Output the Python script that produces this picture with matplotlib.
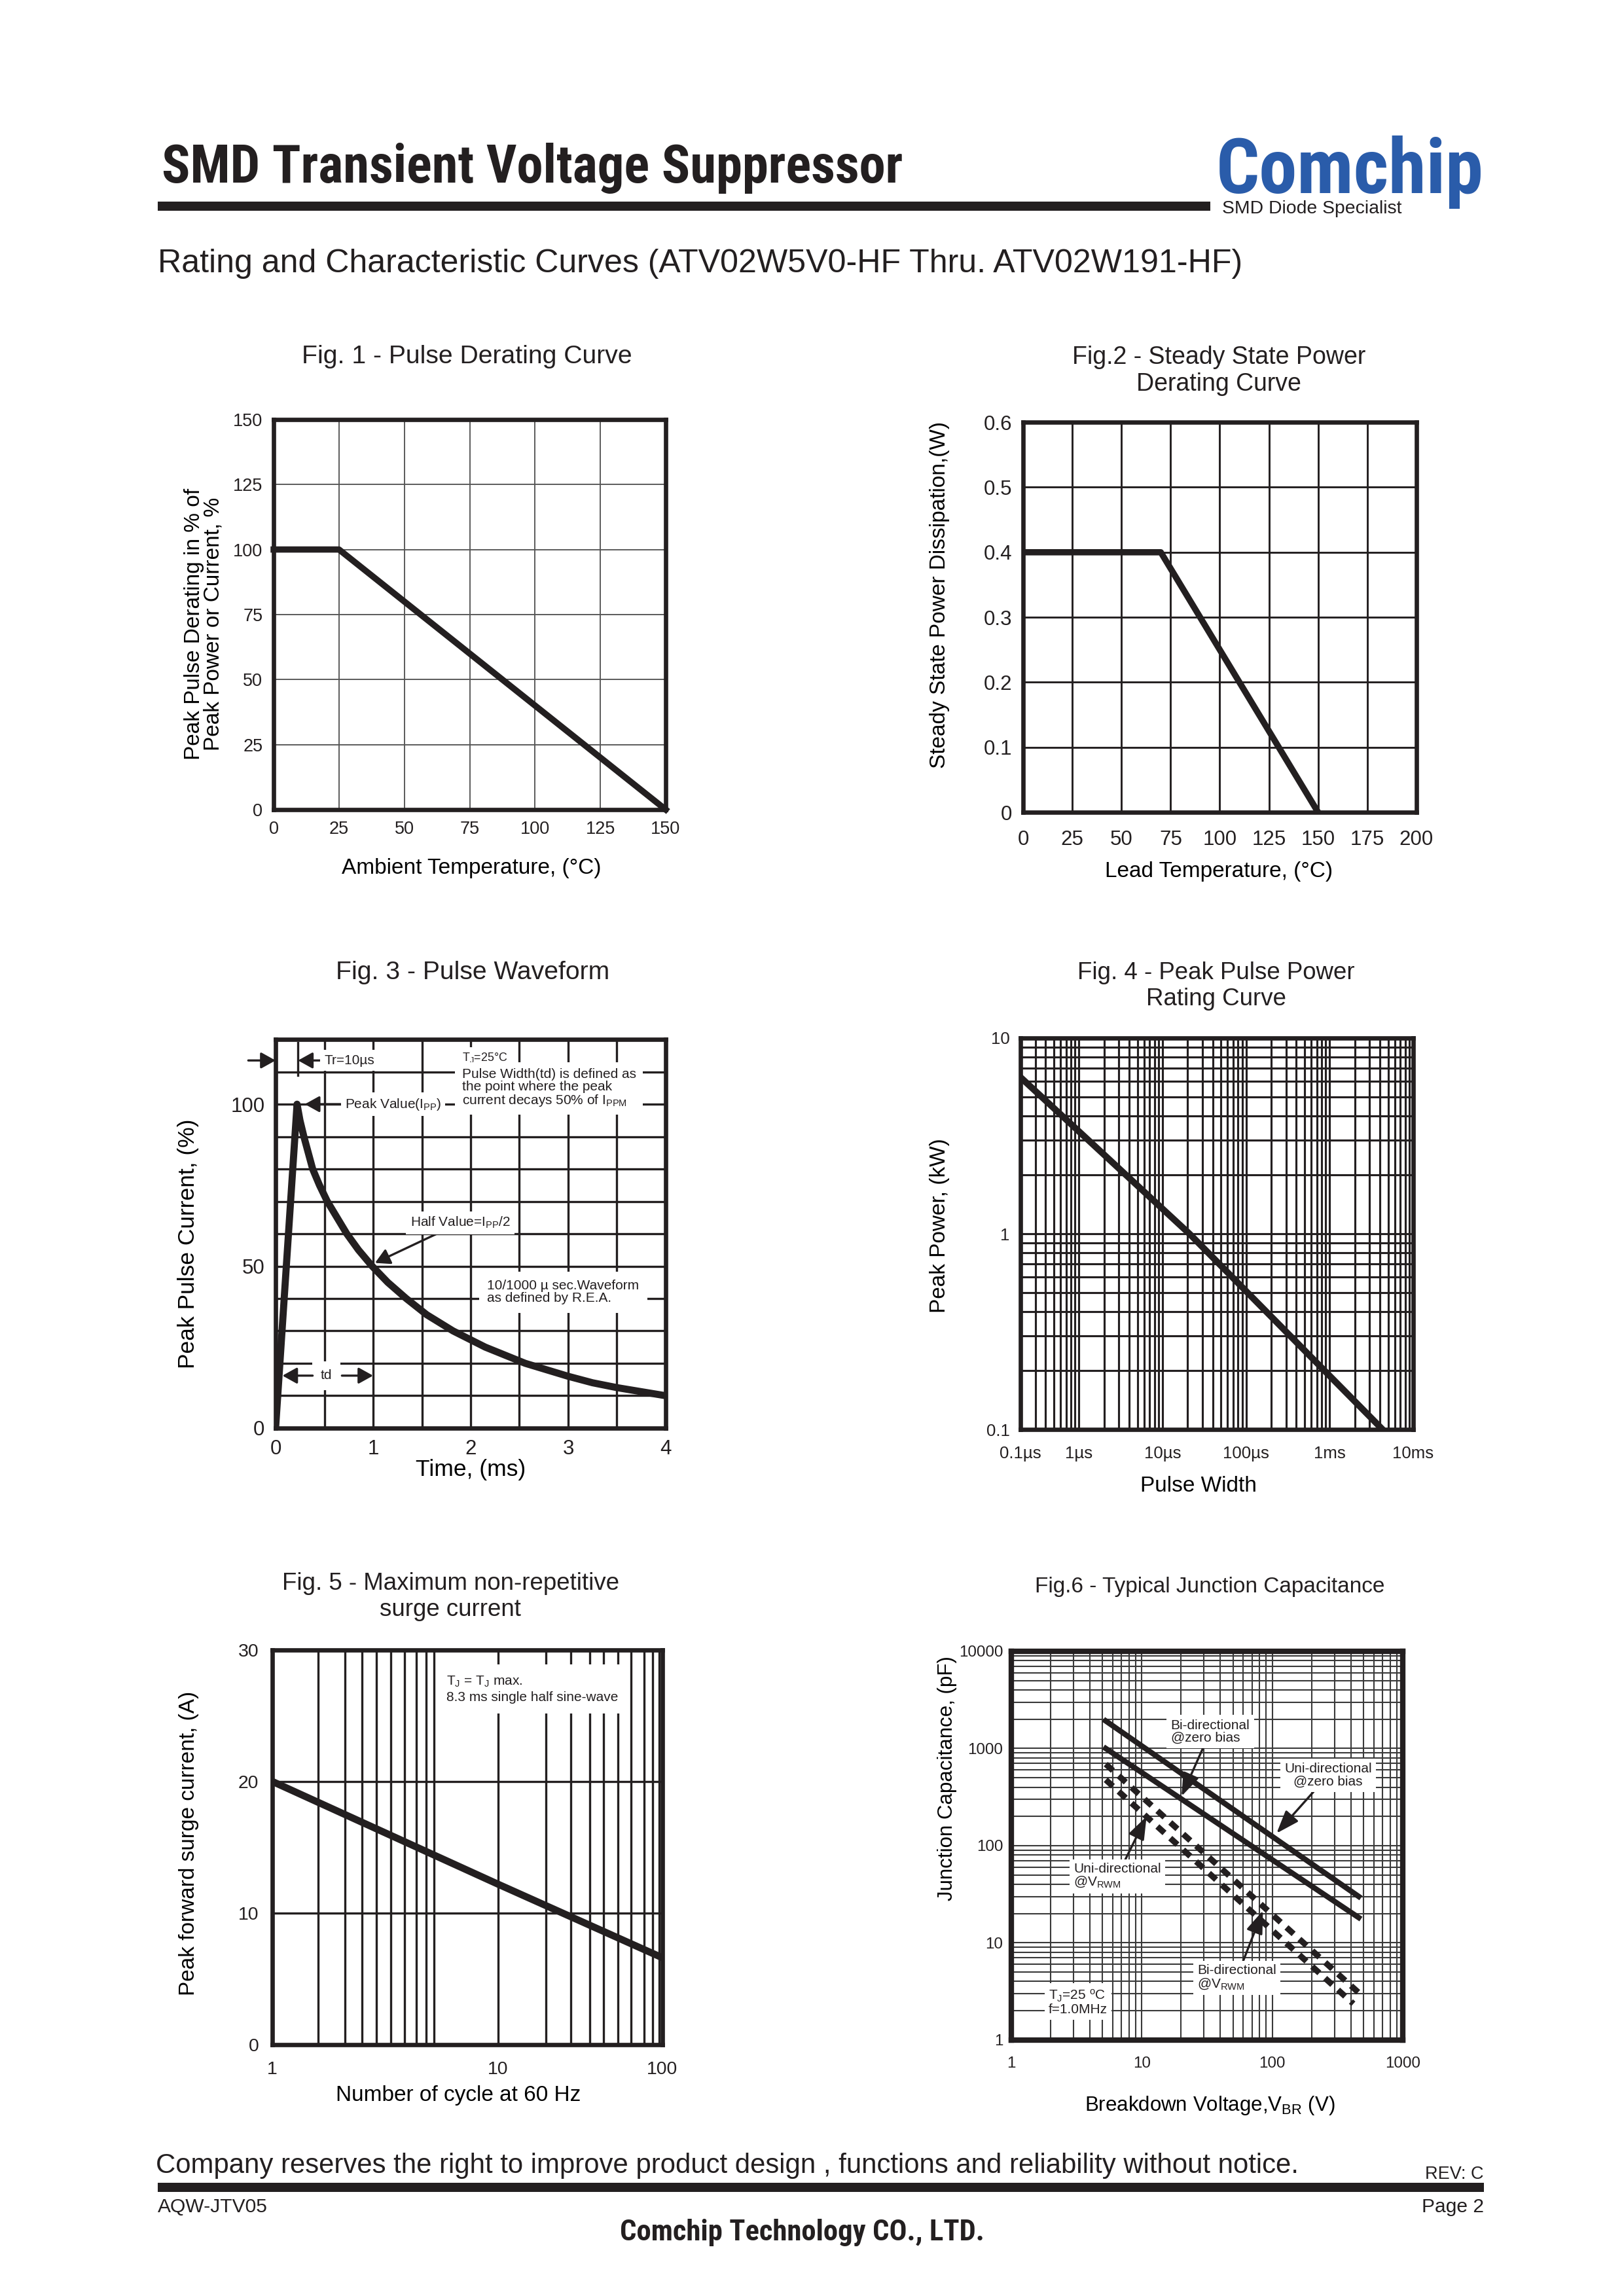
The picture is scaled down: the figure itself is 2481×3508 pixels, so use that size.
import os
import matplotlib
matplotlib.use('Agg')
import matplotlib.pyplot as plt
from matplotlib import font_manager
from matplotlib.font_manager import FontProperties
from matplotlib.patches import Rectangle

# ---- values ----
fig1_temp = [0, 25, 150]
fig1_derating = [100, 100, 0]

fig2_temp = [0, 70, 150]
fig2_power = [0.4, 0.4, 0.0]
fig2_ylabels = ['0', '0.1', '0.2', '0.3', '0.4', '0.5', '0.6']

fig3_time = [0, 0.22, 0.25, 0.29, 0.38, 0.45, 0.53, 0.73, 0.85, 0.99, 1.15,
             1.34, 1.55, 1.82, 2.15, 2.56, 3.0, 3.25, 3.5, 4.0]
fig3_current = [0, 100, 95, 90, 80, 75, 70, 60, 55, 50, 45,
                40, 35, 30, 25, 20, 16, 14, 12.5, 10]

fig4_width_us = [0.2, 21, 4300]
fig4_power_kw = [6.3, 1.0, 0.1]
fig4_ticks = [0.2, 1, 10, 100, 1000, 10000]
fig4_ticklabels = ['0.1µs', '1µs', '10µs', '100µs', '1ms', '10ms']

fig5_cycles = [1, 10, 53.7]
fig5_current = [20, 12.2, 6.6]
fig5_gridx = [1.6, 2.1, 2.5, 2.9, 3.35, 3.85, 4.35, 4.8, 5.2, 10,
              16.3, 21, 25.6, 29.5, 34, 39, 44.5, 48.5, 52]
fig5_ticks = [1, 10, 53.7]
fig5_ticklabels = ['1', '10', '100']

fig6_vbr = [5.3, 460]
fig6_uni_zero = [1920, 30]
fig6_bi_zero = [1000, 18.2]
fig6_bi_vrwm = [690, 3.07]
fig6_vbr_low = [5.3, 419]
fig6_uni_vrwm = [476, 2.36]

INK = '#231f20'
BLUE = '#2a5caa'

plt.rcParams['font.family'] = ['Liberation Sans', 'DejaVu Sans']
plt.rcParams['mathtext.fontset'] = 'custom'
plt.rcParams['mathtext.rm'] = 'Liberation Sans'
plt.rcParams['text.color'] = INK


def condensed_bold():
    # look for a narrow/condensed bold face among the installed fonts
    found = []
    for f in font_manager.fontManager.ttflist:
        fn = os.path.basename(f.fname).lower()
        if not ('narrow' in fn or 'condensed' in fn):
            continue
        if 'bold' not in fn or any(k in fn for k in ('italic', 'oblique', 'semi', 'extra', 'ultra')):
            continue
        found.append(f.fname)
    for key in ('liberation', 'roboto', 'noto', 'dejavu', 'open'):
        for p in found:
            if key in os.path.basename(p).lower():
                return p
    return found[0] if found else None


cond_path = condensed_bold()


def cond_font(size):
    if cond_path:
        return FontProperties(fname=cond_path, size=size)
    return FontProperties(family='Liberation Sans', weight='bold', size=size)


fig = plt.figure(figsize=(2481 / 300, 3508 / 300), dpi=300)
renderer = fig.canvas.get_renderer()


def fit(t, target_px):
    w = t.get_window_extent(renderer).width
    t.set_fontsize(t.get_fontsize() * target_px / w)
    return t


def bar(x, y, w, h):
    fig.add_artist(Rectangle((x, y), w, h, transform=fig.transFigure,
                             facecolor=INK, edgecolor='none'))


def make_axes(rect, lw=1.6):
    ax = fig.add_axes(rect)
    for s in ax.spines.values():
        s.set_linewidth(lw)
        s.set_color(INK)
    ax.tick_params(which='both', length=0, colors=INK)
    return ax


def arrow(ms=10, hl=0.45, hw=0.25, lw=0.8):
    return dict(arrowstyle=f'-|>,head_length={hl},head_width={hw}', color=INK,
                lw=lw, mutation_scale=ms, shrinkA=0, shrinkB=0)


white = dict(facecolor='white', edgecolor='none', pad=1.5)

# ---- page header ----
fit(fig.text(0.0996, 0.9205, 'SMD Transient Voltage Suppressor',
             fontproperties=cond_font(18), va='baseline'), 1132)
bar(0.0971, 0.9082, 0.648, 0.004)
fit(fig.text(0.7489, 0.9160, 'Comchip', fontproperties=cond_font(26), color=BLUE,
             va='baseline'), 409)
fig.text(0.7525, 0.9072, 'SMD Diode Specialist', fontsize=6.8, va='baseline')
fit(fig.text(0.0971, 0.8814, 'Rating and Characteristic Curves (ATV02W5V0-HF Thru. ATV02W191-HF)',
             fontsize=12, va='baseline'), 1660)

# ---- Fig. 1 ----
fig.text(0.2874, 0.8418, 'Fig. 1 - Pulse Derating Curve', fontsize=9.4,
         ha='center', va='baseline')
ax1 = make_axes([0.1685, 0.6474, 0.2414, 0.1699])
ax1.plot(fig1_temp, fig1_derating, color=INK, lw=2.3, clip_on=False)
ax1.set_xlim(0, 150)
ax1.set_ylim(0, 150)
ax1.set_xticks(range(0, 151, 25))
ax1.set_yticks(range(0, 151, 25))
ax1.grid(True, color='#555555', lw=0.45)
ax1.tick_params(labelsize=6.5, pad=4)
ax1.set_xlabel('Ambient Temperature, (°C)', fontsize=8)
ax1.set_ylabel('Peak Pulse Derating in % of\nPeak Power or Current, %', fontsize=8,
               linespacing=0.95)
ax1.xaxis.set_label_coords(0.504, -0.125)
ax1.yaxis.set_label_coords(-0.127, 0.475)

# ---- Fig. 2 ----
fig.text(0.7505, 0.8495, 'Fig.2 - Steady State Power\nDerating Curve', fontsize=9,
         ha='center', va='top', linespacing=1.17)
ax2 = make_axes([0.630, 0.6462, 0.2422, 0.1699])
ax2.plot(fig2_temp, fig2_power, color=INK, lw=2.3)
ax2.set_xlim(0, 200)
ax2.set_ylim(0, 0.6)
ax2.set_xticks(range(0, 201, 25))
ax2.set_yticks([i / 10 for i in range(7)])
ax2.set_yticklabels(fig2_ylabels)
ax2.grid(True, color=INK, lw=0.7)
ax2.tick_params(labelsize=7.5)
ax2.tick_params(axis='x', pad=6.5)
ax2.tick_params(axis='y', pad=4)
ax2.set_xlabel('Lead Temperature, (°C)', fontsize=8)
ax2.set_ylabel('Steady State Power Dissipation,(W)', fontsize=8)
ax2.xaxis.set_label_coords(0.497, -0.125)
ax2.yaxis.set_label_coords(-0.186, 0.557)

# ---- Fig. 3 ----
fig.text(0.291, 0.5736, 'Fig. 3 - Pulse Waveform', fontsize=9.4,
         ha='center', va='baseline')
ax3 = make_axes([0.1697, 0.3780, 0.2402, 0.1693])
ax3.plot(fig3_time, fig3_current, color=INK, lw=2.6, solid_joinstyle='round')
ax3.set_xlim(0, 4)
ax3.set_ylim(0, 120)
ax3.set_xticks(range(0, 5))
ax3.set_xticks([0.5 * i for i in range(1, 8)], minor=True)
ax3.set_yticks([0, 50, 100])
ax3.set_yticks(range(10, 120, 10), minor=True)
ax3.grid(True, which='both', color=INK, lw=0.8)
ax3.tick_params(labelsize=7.5, pad=4)
ax3.set_xlabel('Time, (ms)', fontsize=8.5)
ax3.set_ylabel('Peak Pulse Current, (%)', fontsize=8.5)
ax3.xaxis.set_label_coords(0.50, -0.080)
ax3.yaxis.set_label_coords(-0.196, 0.475)

ax3.annotate('', xy=(0, 113.5), xytext=(-0.28, 113.5), arrowprops=arrow(),
             annotation_clip=False)
ax3.plot([0.23, 0.23], [109, 119], color=INK, lw=0.8)
ax3.annotate('Tr=10µs', xy=(0.23, 113.5), xytext=(0.5, 113.5), fontsize=5,
             va='center', arrowprops=arrow(), bbox=white)
ax3.annotate(r'Peak Value(I$\mathregular{_{PP}}$)', xy=(0.3, 100), xytext=(0.71, 100),
             fontsize=5, va='center', arrowprops=arrow(), bbox=white)
ax3.text(1.91, 114.3, r'T$\mathregular{_J}$=25°C', fontsize=4.3, va='center', bbox=white)
ax3.text(1.91, 111.2, 'Pulse Width(td) is defined as\nthe point where the peak\n'
         r'current decays 50% of I$\mathregular{_{PPM}}$', fontsize=5, va='top',
         linespacing=1.0, bbox=dict(facecolor='white', edgecolor='none', pad=2.5))
ax3.annotate(r'Half Value=I$\mathregular{_{PP}}$/2', xy=(1.02, 51), xytext=(1.38, 63.4),
             fontsize=5, va='center', arrowprops=arrow(), bbox=white)
ax3.text(2.17, 42, '10/1000 µ sec.Waveform\nas defined by R.E.A.', fontsize=5,
         va='center', linespacing=1.0, bbox=dict(facecolor='white', edgecolor='none', pad=3))
ax3.text(0.52, 16.2, 'td', fontsize=5, ha='center', va='center',
         bbox=dict(facecolor='white', edgecolor='none', pad=3))
ax3.annotate('', xy=(0.07, 16.2), xytext=(0.38, 16.2), arrowprops=arrow())
ax3.annotate('', xy=(1.0, 16.2), xytext=(0.68, 16.2), arrowprops=arrow())

# ---- Fig. 4 ----
fig.text(0.749, 0.5812, 'Fig. 4 - Peak Pulse Power\nRating Curve', fontsize=8.8,
         ha='center', va='top', linespacing=1.17)
ax4 = make_axes([0.6284, 0.3774, 0.2418, 0.1705])
ax4.set_xscale('log')
ax4.set_yscale('log')
ax4.plot(fig4_width_us, fig4_power_kw, color=INK, lw=2.4)
ax4.set_xlim(0.2, 10000)
ax4.set_ylim(0.1, 10)
ax4.set_xticks(fig4_ticks)
ax4.set_xticklabels(fig4_ticklabels)
ax4.set_yticks([0.1, 1, 10])
ax4.set_yticklabels(['0.1', '1', '10'])
ax4.xaxis.set_minor_formatter(plt.NullFormatter())
ax4.yaxis.set_minor_formatter(plt.NullFormatter())
ax4.grid(True, which='both', color=INK, lw=0.75)
ax4.tick_params(labelsize=6.2)
ax4.tick_params(axis='x', pad=6)
ax4.tick_params(axis='y', pad=4)
ax4.set_xlabel('Pulse Width', fontsize=8)
ax4.set_ylabel('Peak Power, (kW)', fontsize=8)
ax4.xaxis.set_label_coords(0.453, -0.118)
ax4.yaxis.set_label_coords(-0.18, 0.52)

# ---- Fig. 5 ----
fig.text(0.2774, 0.3153, 'Fig. 5 - Maximum non-repetitive\nsurge current', fontsize=8.8,
         ha='center', va='top', linespacing=1.17)
ax5 = make_axes([0.1677, 0.1095, 0.2402, 0.1719])
ax5.set_xscale('log')
ax5.plot(fig5_cycles, fig5_current, color=INK, lw=2.6)
ax5.set_xlim(1, 53.7)
ax5.set_ylim(0, 30)
ax5.set_xticks(fig5_ticks)
ax5.set_xticklabels(fig5_ticklabels)
ax5.xaxis.set_minor_locator(plt.NullLocator())
ax5.set_yticks([0, 10, 20, 30])
for gx in fig5_gridx:
    ax5.axvline(gx, color=INK, lw=0.8, zorder=0.5)
ax5.grid(True, axis='y', color=INK, lw=0.8)
ax5.tick_params(labelsize=6.8)
ax5.tick_params(axis='x', pad=6)
ax5.tick_params(axis='y', pad=5)
ax5.set_xlabel('Number of cycle at 60 Hz', fontsize=8)
ax5.set_ylabel('Peak forward surge current, (A)', fontsize=8)
ax5.xaxis.set_label_coords(0.476, -0.103)
ax5.yaxis.set_label_coords(-0.188, 0.51)
ax5.text(0.446, 0.90, r'T$\mathregular{_J}$ = T$\mathregular{_J}$ max.' + '\n8.3 ms single half sine-wave',
         transform=ax5.transAxes, fontsize=5, va='center', linespacing=1.25,
         bbox=dict(facecolor='white', edgecolor='none', pad=3.5))

# ---- Fig. 6 ----
fig.text(0.7451, 0.3064, 'Fig.6 - Typical Junction Capacitance', fontsize=8,
         ha='center', va='baseline')
ax6 = make_axes([0.6227, 0.1115, 0.2410, 0.1693], lw=2.0)
ax6.set_xscale('log')
ax6.set_yscale('log')
ax6.plot(fig6_vbr, fig6_uni_zero, color=INK, lw=2.0)
ax6.plot(fig6_vbr, fig6_bi_zero, color=INK, lw=2.0)
ax6.plot(fig6_vbr, fig6_bi_vrwm, color=INK, lw=2.2, ls=(0, (1.6, 1.3)))
ax6.plot(fig6_vbr_low, fig6_uni_vrwm, color=INK, lw=2.2, ls=(0, (1.6, 1.3)))
ax6.set_xlim(1, 1000)
ax6.set_ylim(1, 10000)
ax6.set_xticks([1, 10, 100, 1000])
ax6.set_xticklabels(['1', '10', '100', '1000'])
ax6.set_yticks([1, 10, 100, 1000, 10000])
ax6.set_yticklabels(['1', '10', '100', '1000', '10000'])
ax6.xaxis.set_minor_formatter(plt.NullFormatter())
ax6.yaxis.set_minor_formatter(plt.NullFormatter())
ax6.grid(True, which='both', color='#3a3a3a', lw=0.5)
ax6.tick_params(labelsize=5.8)
ax6.tick_params(axis='x', pad=6)
ax6.tick_params(axis='y', pad=3)
ax6.set_xlabel(r'Breakdown Voltage,V$\mathregular{_{BR}}$ (V)', fontsize=7.5)
ax6.set_ylabel('Junction Capacitance, (pF)', fontsize=7.5)
ax6.xaxis.set_label_coords(0.508, -0.140)
ax6.yaxis.set_label_coords(-0.139, 0.673)

big = arrow(ms=13, hl=0.55, hw=0.2, lw=0.8)
ax6.annotate('Bi-directional\n@zero bias', xy=(20.2, 323), xytext=(16.7, 1490), fontsize=5,
             va='center', linespacing=1.0, arrowprops=big, bbox=white)
ax6.annotate('Uni-directional\n@zero bias', xy=(108, 134), xytext=(269, 530), fontsize=5,
             ha='center', va='center', linespacing=1.0, arrowprops=big, bbox=white)
ax6.annotate('Uni-directional\n' + r'@V$\mathregular{_{RWM}}$', xy=(10.9, 200), xytext=(3.0, 48.8),
             fontsize=5, va='center', linespacing=1.0, arrowprops=big, bbox=white)
ax6.annotate('Bi-directional\n' + r'@V$\mathregular{_{RWM}}$', xy=(85, 21.5), xytext=(26.6, 4.4),
             fontsize=5, va='center', linespacing=1.0, arrowprops=big, bbox=white)
ax6.text(1.93, 2.47, r'T$\mathregular{_J}$=25 $\mathregular{^o}$C' + '\nf=1.0MHz', fontsize=5,
         va='center', linespacing=1.0, bbox=white)

# ---- page footer ----
fit(fig.text(0.096, 0.0536, 'Company reserves the right to improve product design , functions and reliability without notice.',
             fontsize=10.1, va='baseline'), 1743)
fig.text(0.9137, 0.051, 'REV: C', fontsize=6.5, ha='right', va='baseline')
bar(0.0971, 0.0453, 0.8166, 0.004)
fig.text(0.0971, 0.0365, 'AQW-JTV05', fontsize=7.2, va='baseline')
fig.text(0.9137, 0.0365, 'Page 2', fontsize=7.2, ha='right', va='baseline')
fit(fig.text(0.494, 0.0242, 'Comchip Technology CO., LTD.', fontproperties=cond_font(9),
             ha='center', va='baseline'), 558)

fig.savefig('out.png', dpi=300, facecolor='white')
